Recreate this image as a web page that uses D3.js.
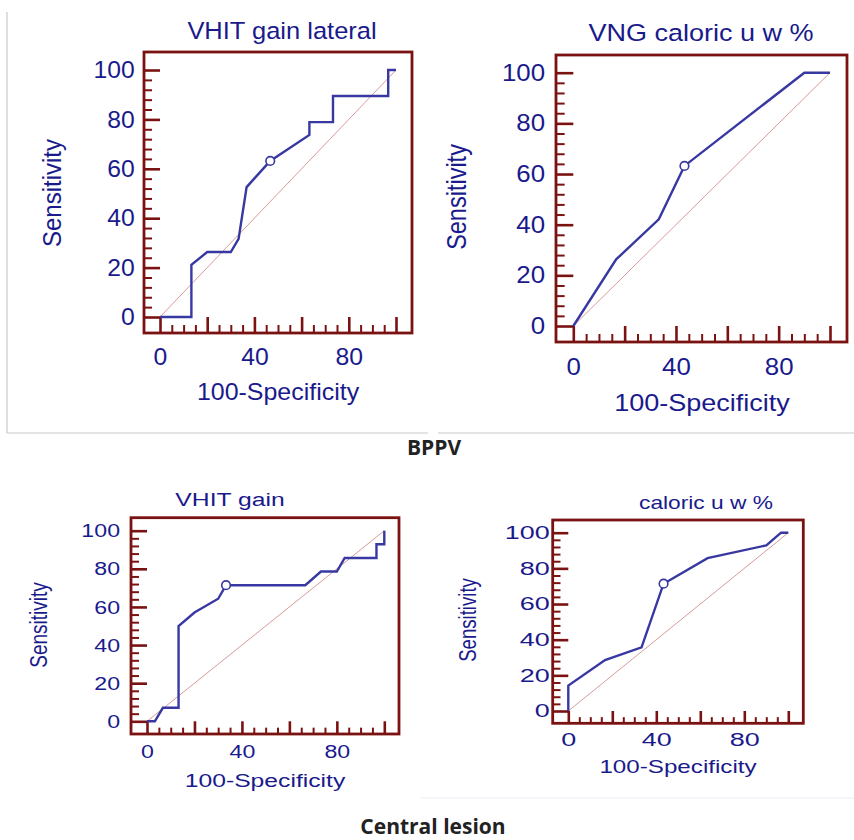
<!DOCTYPE html>
<html>
<head>
<meta charset="utf-8">
<script src="https://cdn.jsdelivr.net/npm/d3@7"></script>
<style>
  body { margin: 0; background: #fff; }
  svg { display: block; }
</style>
</head>
<body>
<div id="chart"></div>
<script>
// ROC curves, values (100-Specificity vs Sensitivity, in %)
const lateralFpr  = [0, 13.3, 13.3, 20, 30, 33.3, 36.7, 46.7, 63.3, 63.3, 73.3, 73.3, 96.7, 96.7, 100];
const lateralSens = [0, 0, 21.1, 26.3, 26.3, 31.6, 52.6, 63.2, 73.7, 78.9, 78.9, 89.5, 89.5, 100, 100];
const lateralCut  = [46.7, 63.2];

const vngFpr  = [0, 16.7, 33.3, 43.3, 90, 100];
const vngSens = [0, 26.3, 42.1, 63.2, 100, 100];
const vngCut  = [43.3, 63.2];

const gainFpr  = [0, 3.3, 6.7, 13.3, 13.3, 20, 30, 33.3, 66.7, 73.3, 80, 83.3, 96.7, 96.7, 100, 100];
const gainSens = [0, 0, 7.1, 7.1, 50, 57.1, 64.3, 71.4, 71.4, 78.6, 78.6, 85.7, 85.7, 92.9, 92.9, 100];
const gainCut  = [33.3, 71.4];

const caloricFpr  = [0, 0, 16.7, 33.3, 43.3, 63.3, 90, 96.7, 100];
const caloricSens = [0, 14.3, 28.6, 35.7, 71.4, 85.7, 92.9, 100, 100];
const caloricCut  = [43.3, 71.4];

const titles = ['VHIT gain lateral', 'VNG caloric u w %', 'VHIT gain', 'caloric u w %'];
const groupLabels = ['BPPV', 'Central lesion'];
const xTickLabels = [0, 40, 80];
const yMajor = [0, 20, 40, 60, 80, 100];
const xMajor = [0, 20, 40, 60, 80, 100];
const xMinor = d3.range(0, 101, 5).filter(v => v % 20);
const yMinor = d3.range(0, 101, 4).filter(v => v % 20);

const width = 854, height = 840;
const navy = '#1a1a8c', curveBlue = '#3838a2', frameRed = '#7b1212', diagPink = '#d99a9a';
const font = '"Liberation Sans", Arial, sans-serif';

// where each panel sits on the page (the source image was resized unevenly, hence sx)
const layout = [
  { frame: [144, 52, 412, 333], x: [160, 396], y: [317, 70], fs: 24, sx: 1.04, tickSx: 1.03,
    titleAt: [282, 39], titleFs: 24.5, xTitleAt: [278, 400], yTitleAt: [61, 193], yPad: 9, xPad: 15 },
  { frame: [556, 55, 847, 342], x: [573.3, 830], y: [326, 72.7], fs: 23.5, sx: 1.15, tickSx: 1.1,
    titleAt: [701, 41], titleFs: 23.5, xTitleAt: [702, 411], yTitleAt: [466, 197], yPad: 10, xPad: 16.5 },
  { frame: [131, 517.7, 399, 734], x: [147, 384.3], y: [721.3, 530.7], fs: 19, sx: 1.3, tickSx: 1.22,
    titleAt: [230, 506], titleFs: 19, xTitleAt: [265, 787], yTitleAt: [47, 625], yPad: 9, xPad: 10.5 },
  { frame: [552.7, 520, 803.3, 723.3], x: [568.3, 788.3], y: [711, 532.7], fs: 18.6, sx: 1.3, tickSx: 1.45,
    titleAt: [706, 509], titleFs: 17.5, xTitleAt: [678, 773], yTitleAt: [476, 620], yPad: 2, xPad: 9 }
];

const series = [
  { fpr: lateralFpr, sens: lateralSens, cut: lateralCut },
  { fpr: vngFpr, sens: vngSens, cut: vngCut },
  { fpr: gainFpr, sens: gainSens, cut: gainCut },
  { fpr: caloricFpr, sens: caloricSens, cut: caloricCut }
];

const svg = d3.select('#chart').append('svg')
  .attr('width', width)
  .attr('height', height)
  .style('background', '#fff');

// light frames round the two image blocks
const rule = (x1, y1, x2, y2, c) => svg.append('line')
  .attr('x1', x1).attr('y1', y1).attr('x2', x2).attr('y2', y2)
  .attr('stroke', c).attr('stroke-width', 1.2);
rule(7, 12, 7, 433, '#c9c9c9');
rule(7, 433, 428, 433, '#c9c9c9');
rule(438, 433, 854, 433, '#c9c9c9');
rule(420, 798, 854, 798, '#ececf6');

const stretched = (g, str, x, y, fs, sx, rot = 0) => g.append('text')
  .attr('transform', `translate(${x},${y}) scale(${sx},1) rotate(${rot})`)
  .attr('text-anchor', 'middle')
  .style('font-family', font)
  .style('font-size', fs + 'px')
  .attr('fill', navy)
  .text(str);

const rocPanel = (i) => {
  const L = layout[i], S = series[i];
  const [fl, ft, fr, fb] = L.frame;
  const g = svg.append('g');

  const x = d3.scaleLinear().domain([0, 100]).range(L.x);
  const y = d3.scaleLinear().domain([0, 100]).range(L.y);
  const tickX = x(0) - fl;   // y-axis ticks reach the x=0 line
  const tickY = fb - y(0);   // x-axis ticks reach the y=0 line

  // chance diagonal
  g.append('line')
    .attr('x1', x(0)).attr('y1', y(0)).attr('x2', x(100)).attr('y2', y(100))
    .attr('stroke', diagPink).attr('stroke-width', 1);

  const styleAxis = (ax, w) => {
    ax.select('.domain').remove();
    ax.selectAll('line').attr('stroke', frameRed).attr('stroke-width', w);
  };

  // y axis on the frame's left edge, ticks pointing inward
  const yMinorAx = g.append('g').attr('transform', `translate(${fl},0)`)
    .call(d3.axisLeft(y).tickValues(yMinor).tickSizeInner(-tickX / 2).tickSizeOuter(0).tickFormat(''));
  styleAxis(yMinorAx, 2);
  const yAx = g.append('g').attr('transform', `translate(${fl},0)`)
    .call(d3.axisLeft(y).tickValues(yMajor).tickSizeInner(-tickX).tickSizeOuter(0).tickPadding(L.yPad));
  styleAxis(yAx, 2.6);

  // x axis on the frame's bottom edge
  const xMinorAx = g.append('g').attr('transform', `translate(0,${fb})`)
    .call(d3.axisBottom(x).tickValues(xMinor).tickSizeInner(-tickY / 2).tickSizeOuter(0).tickFormat(''));
  styleAxis(xMinorAx, 2);
  const xAx = g.append('g').attr('transform', `translate(0,${fb})`)
    .call(d3.axisBottom(x).tickValues(xMajor).tickSizeInner(-tickY).tickSizeOuter(0).tickPadding(L.xPad)
      .tickFormat(d => xTickLabels.includes(d) ? d : ''));
  styleAxis(xAx, 2.6);

  [yAx, xAx].forEach(ax => ax.selectAll('text')
    .attr('transform', `scale(${L.tickSx},1)`)
    .attr('fill', navy)
    .style('font-family', font)
    .style('font-size', L.fs + 'px'));

  // plot frame
  g.append('rect')
    .attr('x', fl).attr('y', ft).attr('width', fr - fl).attr('height', fb - ft)
    .attr('fill', 'none').attr('stroke', frameRed).attr('stroke-width', 2.8);

  // ROC curve
  const pts = S.fpr.map((v, k) => [v, S.sens[k]]);
  g.append('path')
    .datum(pts)
    .attr('fill', 'none')
    .attr('stroke', curveBlue)
    .attr('stroke-width', 2.4)
    .attr('stroke-linejoin', 'miter')
    .attr('d', d3.line().x(d => x(d[0])).y(d => y(d[1])));

  // optimal cut-off marker
  g.append('circle')
    .attr('cx', x(S.cut[0])).attr('cy', y(S.cut[1])).attr('r', 4.3)
    .attr('fill', '#fff').attr('stroke', curveBlue).attr('stroke-width', 1.6);

  stretched(g, titles[i], L.titleAt[0], L.titleAt[1], L.titleFs, L.sx);
  stretched(g, '100-Specificity', L.xTitleAt[0], L.xTitleAt[1], L.fs, L.sx);
  stretched(g, 'Sensitivity', L.yTitleAt[0], L.yTitleAt[1], L.fs, L.sx, -90);
};

d3.range(4).forEach(rocPanel);

const groupLabel = (str, x, y) => svg.append('text')
  .attr('x', x).attr('y', y)
  .attr('text-anchor', 'middle')
  .style('font-family', '"Open Sans", Calibri, sans-serif')
  .style('font-weight', 700)
  .style('font-size', '21px')
  .attr('fill', '#222')
  .text(str);

groupLabel(groupLabels[0], 434, 455);
groupLabel(groupLabels[1], 433, 834);
</script>
</body>
</html>
